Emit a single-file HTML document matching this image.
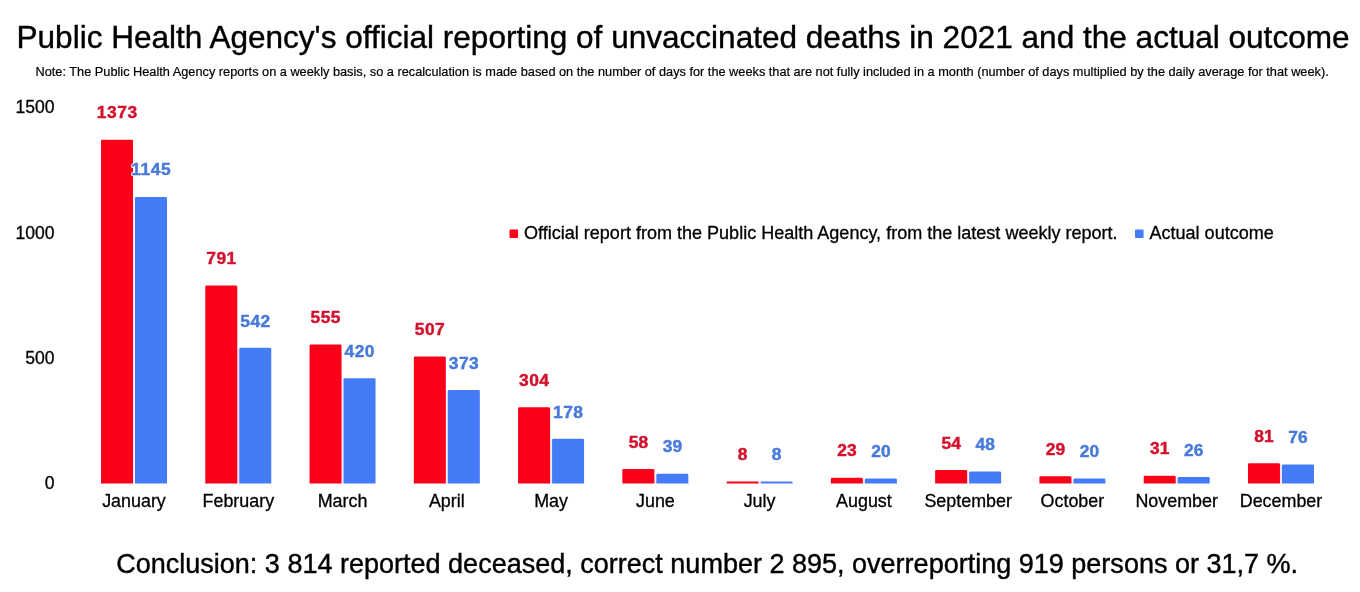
<!DOCTYPE html>
<html lang="en">
<head>
<meta charset="utf-8">
<title>Public Health Agency's official reporting of unvaccinated deaths in 2021 and the actual outcome</title>
<style>
html,body{margin:0;padding:0;background:#fff;}
body{width:1360px;height:592px;overflow:hidden;}
svg{display:block;}
text{font-family:"Liberation Sans",sans-serif;fill:#000;stroke:#000;stroke-width:0.3px;}
.t{font-size:31.56px;stroke-width:0.4px;}
.n{font-size:12.765px;stroke-width:0.2px;}
.c{font-size:27.03px;stroke-width:0.4px;}
.a{font-size:17.9px;}
.l{font-size:18.05px;}
.d{font-size:17.4px;font-weight:bold;text-anchor:middle;stroke-width:0.45px;}
.r{fill:#d3112d;stroke:#d3112d;}
.b{fill:#487adb;stroke:#487adb;}
.h{fill:#fff;stroke:#fff;stroke-width:2.2px;stroke-linejoin:round;}
.m{text-anchor:middle;}
.y{font-size:17.55px;text-anchor:end;}
</style>
</head>
<body>
<svg width="1360" height="592" viewBox="0 0 1360 592">
<rect width="1360" height="592" fill="#fff"/>
<text class="t" x="16.5" y="48.2">Public Health Agency's official reporting of unvaccinated deaths in 2021 and the actual outcome</text>
<text class="n" x="35.5" y="75.6">Note: The Public Health Agency reports on a weekly basis, so a recalculation is made based on the number of days for the weeks that are not fully included in a month (number of days multiplied by the daily average for that week).</text>
<text class="a y" x="54.4" y="488.7">0</text>
<text class="a y" x="54.4" y="364.3">500</text>
<text class="a y" x="54.4" y="238.9">1000</text>
<text class="a y" x="54.4" y="113.1">1500</text>
<rect x="132.70" y="197.91" width="2.60" height="285.49" fill="#fde6f8"/>
<path d="M101.00 483.40V141.16Q101.00 139.86 102.30 139.86H131.70Q133.00 139.86 133.00 141.16V483.40Z" fill="#fa0019"/>
<path d="M135.00 483.40V198.21Q135.00 196.91 136.30 196.91H165.70Q167.00 196.91 167.00 198.21V483.40Z" fill="#437cf6"/>
<rect x="236.97" y="348.79" width="2.60" height="134.61" fill="#fde6f8"/>
<path d="M205.27 483.40V286.78Q205.27 285.48 206.57 285.48H235.97Q237.27 285.48 237.27 286.78V483.40Z" fill="#fa0019"/>
<path d="M239.27 483.40V349.09Q239.27 347.79 240.57 347.79H269.97Q271.27 347.79 271.27 349.09V483.40Z" fill="#437cf6"/>
<rect x="341.24" y="379.31" width="2.60" height="104.09" fill="#fde6f8"/>
<path d="M309.54 483.40V345.83Q309.54 344.53 310.84 344.53H340.24Q341.54 344.53 341.54 345.83V483.40Z" fill="#fa0019"/>
<path d="M343.54 483.40V379.61Q343.54 378.31 344.84 378.31H374.24Q375.54 378.31 375.54 379.61V483.40Z" fill="#437cf6"/>
<rect x="445.51" y="391.07" width="2.60" height="92.33" fill="#fde6f8"/>
<path d="M413.81 483.40V357.84Q413.81 356.54 415.11 356.54H444.51Q445.81 356.54 445.81 357.84V483.40Z" fill="#fa0019"/>
<path d="M447.81 483.40V391.37Q447.81 390.07 449.11 390.07H478.51Q479.81 390.07 479.81 391.37V483.40Z" fill="#437cf6"/>
<rect x="549.78" y="439.86" width="2.60" height="43.54" fill="#fde6f8"/>
<path d="M518.08 483.40V408.64Q518.08 407.34 519.38 407.34H548.78Q550.08 407.34 550.08 408.64V483.40Z" fill="#fa0019"/>
<path d="M552.08 483.40V440.16Q552.08 438.86 553.38 438.86H582.78Q584.08 438.86 584.08 440.16V483.40Z" fill="#437cf6"/>
<rect x="654.05" y="474.64" width="2.60" height="8.76" fill="#fde6f8"/>
<path d="M622.35 483.40V470.19Q622.35 468.89 623.65 468.89H653.05Q654.35 468.89 654.35 470.19V483.40Z" fill="#fa0019"/>
<path d="M656.35 483.40V474.94Q656.35 473.64 657.65 473.64H687.05Q688.35 473.64 688.35 474.94V483.40Z" fill="#437cf6"/>
<rect x="758.32" y="482.40" width="2.60" height="1.00" fill="#fde6f8"/>
<path d="M726.62 483.40V482.40Q726.62 481.40 727.62 481.40H757.62Q758.62 481.40 758.62 482.40V483.40Z" fill="#fa0019"/>
<path d="M760.62 483.40V482.40Q760.62 481.40 761.62 481.40H791.62Q792.62 481.40 792.62 482.40V483.40Z" fill="#437cf6"/>
<rect x="862.59" y="479.40" width="2.60" height="4.00" fill="#fde6f8"/>
<path d="M830.89 483.40V478.95Q830.89 477.65 832.19 477.65H861.59Q862.89 477.65 862.89 478.95V483.40Z" fill="#fa0019"/>
<path d="M864.89 483.40V479.70Q864.89 478.40 866.19 478.40H895.59Q896.89 478.40 896.89 479.70V483.40Z" fill="#437cf6"/>
<rect x="966.86" y="472.39" width="2.60" height="11.01" fill="#fde6f8"/>
<path d="M935.16 483.40V471.19Q935.16 469.89 936.46 469.89H965.86Q967.16 469.89 967.16 471.19V483.40Z" fill="#fa0019"/>
<path d="M969.16 483.40V472.69Q969.16 471.39 970.46 471.39H999.86Q1001.16 471.39 1001.16 472.69V483.40Z" fill="#437cf6"/>
<rect x="1071.13" y="479.40" width="2.60" height="4.00" fill="#fde6f8"/>
<path d="M1039.43 483.40V477.44Q1039.43 476.14 1040.73 476.14H1070.13Q1071.43 476.14 1071.43 477.44V483.40Z" fill="#fa0019"/>
<path d="M1073.43 483.40V479.70Q1073.43 478.40 1074.73 478.40H1104.13Q1105.43 478.40 1105.43 479.70V483.40Z" fill="#437cf6"/>
<rect x="1175.40" y="477.89" width="2.60" height="5.51" fill="#fde6f8"/>
<path d="M1143.70 483.40V476.94Q1143.70 475.64 1145.00 475.64H1174.40Q1175.70 475.64 1175.70 476.94V483.40Z" fill="#fa0019"/>
<path d="M1177.70 483.40V478.19Q1177.70 476.89 1179.00 476.89H1208.40Q1209.70 476.89 1209.70 478.19V483.40Z" fill="#437cf6"/>
<rect x="1279.67" y="465.38" width="2.60" height="18.02" fill="#fde6f8"/>
<path d="M1247.97 483.40V464.43Q1247.97 463.13 1249.27 463.13H1278.67Q1279.97 463.13 1279.97 464.43V483.40Z" fill="#fa0019"/>
<path d="M1281.97 483.40V465.68Q1281.97 464.38 1283.27 464.38H1312.67Q1313.97 464.38 1313.97 465.68V483.40Z" fill="#437cf6"/>
<text class="d r" x="117.30" y="118.0" letter-spacing="0.6">1373</text>
<text class="d h" x="151.30" y="175.0" letter-spacing="0.6" aria-hidden="true">1145</text>
<text class="d b" x="151.30" y="175.0" letter-spacing="0.6">1145</text>
<text class="a m" x="134.0" y="506.6">January</text>
<text class="d r" x="221.49" y="263.6" letter-spacing="0.45">791</text>
<text class="d b" x="255.49" y="326.6" letter-spacing="0.45">542</text>
<text class="a m" x="238.3" y="506.6">February</text>
<text class="d r" x="325.76" y="322.9" letter-spacing="0.45">555</text>
<text class="d b" x="359.76" y="357.1" letter-spacing="0.45">420</text>
<text class="a m" x="342.5" y="506.6">March</text>
<text class="d r" x="430.04" y="334.6" letter-spacing="0.45">507</text>
<text class="d b" x="464.04" y="368.9" letter-spacing="0.45">373</text>
<text class="a m" x="446.8" y="506.6">April</text>
<text class="d r" x="534.30" y="386.1" letter-spacing="0.45">304</text>
<text class="d b" x="568.30" y="417.7" letter-spacing="0.45">178</text>
<text class="a m" x="551.1" y="506.6">May</text>
<text class="d r" x="638.40" y="447.7" letter-spacing="0.1">58</text>
<text class="d b" x="672.40" y="452.4" letter-spacing="0.1">39</text>
<text class="a m" x="655.4" y="506.6">June</text>
<text class="d r" x="742.62" y="459.8" letter-spacing="0">8</text>
<text class="d b" x="776.62" y="459.8" letter-spacing="0">8</text>
<text class="a m" x="759.6" y="506.6">July</text>
<text class="d r" x="846.94" y="456.4" letter-spacing="0.1">23</text>
<text class="d b" x="880.94" y="457.2" letter-spacing="0.1">20</text>
<text class="a m" x="863.9" y="506.6">August</text>
<text class="d r" x="951.21" y="448.7" letter-spacing="0.1">54</text>
<text class="d b" x="985.21" y="450.2" letter-spacing="0.1">48</text>
<text class="a m" x="968.2" y="506.6">September</text>
<text class="d r" x="1055.48" y="454.9" letter-spacing="0.1">29</text>
<text class="d b" x="1089.48" y="457.2" letter-spacing="0.1">20</text>
<text class="a m" x="1072.4" y="506.6">October</text>
<text class="d r" x="1159.75" y="454.4" letter-spacing="0.1">31</text>
<text class="d b" x="1193.75" y="455.7" letter-spacing="0.1">26</text>
<text class="a m" x="1176.7" y="506.6">November</text>
<text class="d r" x="1264.02" y="441.9" letter-spacing="0.1">81</text>
<text class="d b" x="1298.02" y="443.2" letter-spacing="0.1">76</text>
<text class="a m" x="1281.0" y="506.6">December</text>
<rect x="509.5" y="229.5" width="8.6" height="8.6" rx="1" fill="#fa0019"/>
<text class="l" x="524" y="238.5">Official report from the Public Health Agency, from the latest weekly report.</text>
<rect x="1135" y="229.5" width="8.6" height="8.6" rx="1" fill="#437cf6"/>
<text class="l" x="1149.5" y="238.5">Actual outcome</text>
<text class="c" x="116.2" y="572.6">Conclusion: 3 814 reported deceased, correct number 2 895, overreporting 919 persons or 31,7 %.</text>
</svg>
</body>
</html>
